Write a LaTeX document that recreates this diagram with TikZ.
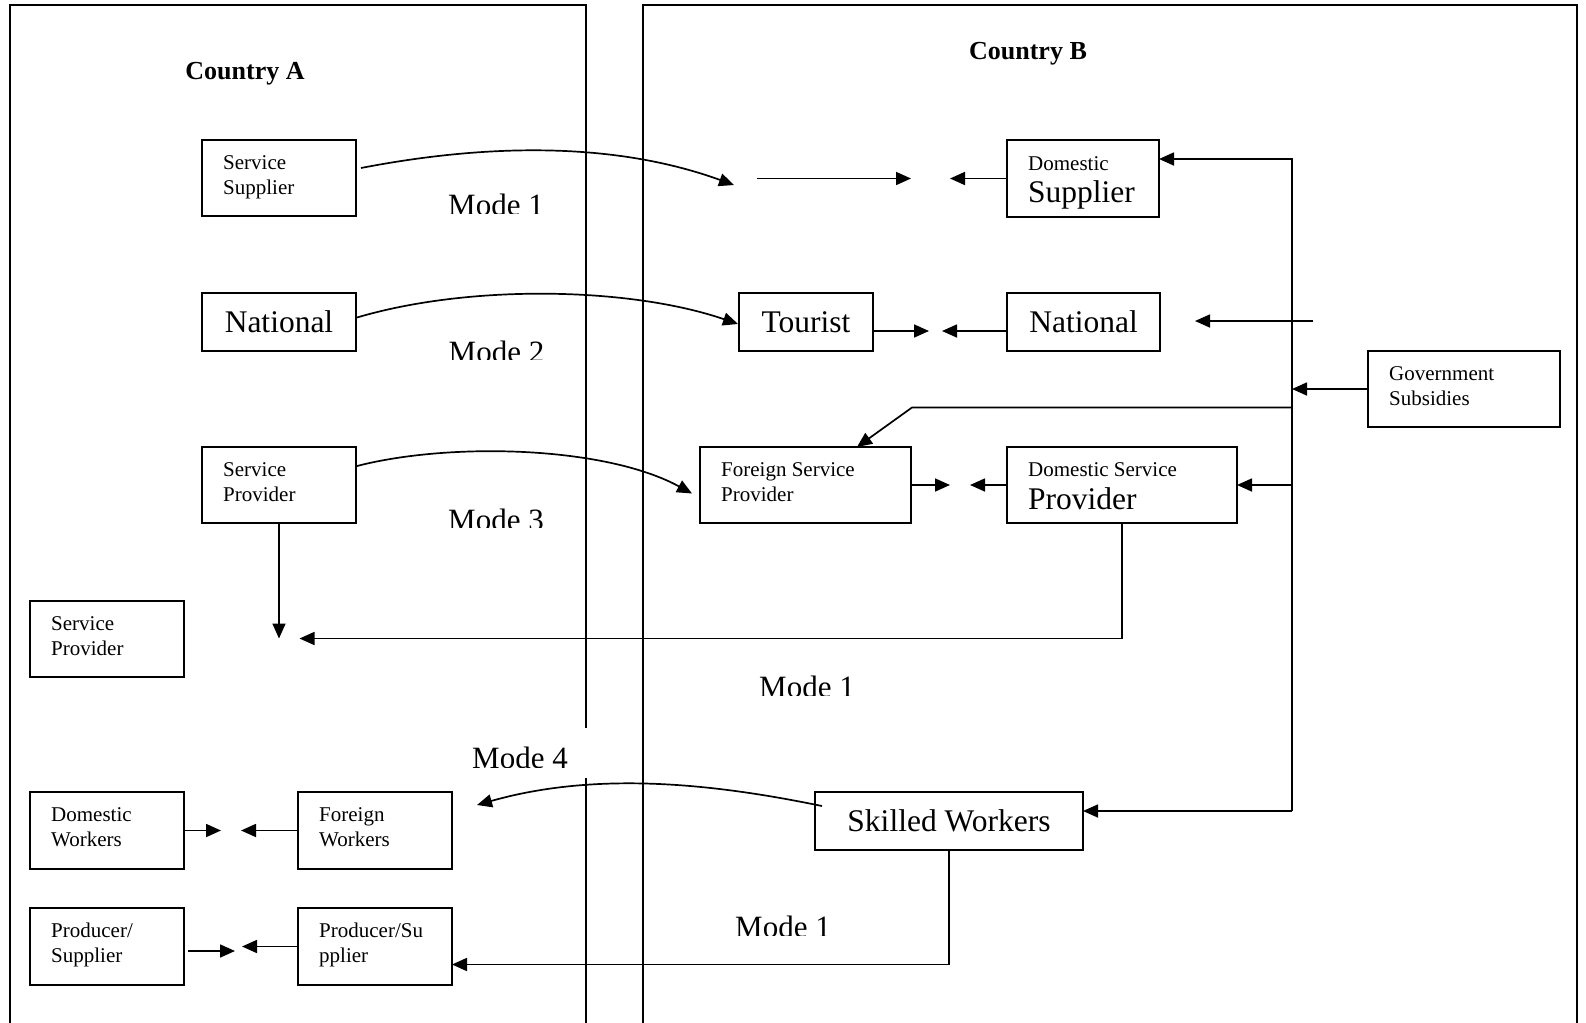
\documentclass[tikz,border=0pt]{standalone}
\usepackage{fontspec}
\setmainfont{Liberation Serif}
\usetikzlibrary{arrows.meta,calc}
\newcommand\fsmall{\fontsize{21}{24}\selectfont}
\newcommand\flarge{\fontsize{31.5}{36}\selectfont}
\newcommand\fmode{\fontsize{31}{36}\selectfont}
\newcommand\ftitle{\fontsize{26}{30}\selectfont\bfseries}
\begin{document}
\begin{tikzpicture}[x=1pt,y=-1pt,
  box/.style={draw, line width=1.6pt, inner sep=0pt, outer sep=0pt, anchor=north west},
  bigbox/.style={box, font=\flarge},
  stxt/.style={inner sep=0pt, anchor=base west, font=\fsmall},
  ltxt/.style={inner sep=0pt, anchor=base west, font=\flarge},
  mlbl/.style={inner sep=0pt, anchor=base, font=\fmode},
  ttl/.style={inner sep=0pt, anchor=base, font=\ftitle},
  frame/.style={line width=1.5pt},
  conn/.style={line width=1.7pt},
  arr/.style={conn, -{Triangle[length=15pt,width=13pt]}},
]
\useasboundingbox (0,0) rectangle (1586,1022);
\clip (0,0) rectangle (1586,1022);

% country frames
\coordinate (aBL) at (10,1040);
\coordinate (aTL) at (10,5);
\coordinate (aTR) at (586,5);
\coordinate (aG1) at (586,728);
\coordinate (aG2) at (586,778);
\coordinate (aBR) at (586,1040);
\draw[frame] (aBL) -- (aTL) -- (aTR) -- (aG1);
\draw[frame] (aG2) -- (aBR);
\coordinate (bBL) at (643,1040);
\coordinate (bTL) at (643,5);
\coordinate (bTR) at (1577,5);
\coordinate (bBR) at (1577,1040);
\draw[frame] (bBL) -- (bTL) -- (bTR) -- (bBR);

\node[ttl] (ca) at (245,80) {Country A};
\node[ttl] (cb) at (1028,60) {Country B};

% Country A boxes
\node[box, minimum width=154pt, minimum height=76pt] (ss) at (202,140) {};
\node[stxt] (ss1) at (223,169.5) {Service};
\node[stxt] (ss2) at (223,194) {Supplier};

\node[bigbox, minimum width=154pt, minimum height=58pt] (natA) at (202,293) {National};

\node[box, minimum width=154pt, minimum height=76pt] (spA) at (202,447) {};
\node[stxt] (spA1) at (223,476.5) {Service};
\node[stxt] (spA2) at (223,501) {Provider};

\node[box, minimum width=154pt, minimum height=76pt] (sp2) at (30,601) {};
\node[stxt] (sp21) at (51,630) {Service};
\node[stxt] (sp22) at (51,655) {Provider};

\node[box, minimum width=154pt, minimum height=77pt] (dw) at (30,792) {};
\node[stxt] (dw1) at (51,821.5) {Domestic};
\node[stxt] (dw2) at (51,846) {Workers};

\node[box, minimum width=154pt, minimum height=77pt] (fw) at (298,792) {};
\node[stxt] (fw1) at (319,821.5) {Foreign};
\node[stxt] (fw2) at (319,846) {Workers};

\node[box, minimum width=154pt, minimum height=77pt] (ps) at (30,908) {};
\node[stxt] (ps1) at (51,937.5) {Producer/};
\node[stxt] (ps2) at (51,962) {Supplier};

\node[box, minimum width=154pt, minimum height=77pt] (psu) at (298,908) {};
\node[stxt] (psu1) at (319,937.5) {Producer/Su};
\node[stxt] (psu2) at (319,962) {pplier};

% Country B boxes
\node[box, minimum width=152pt, minimum height=77pt] (dsup) at (1007,140) {};
\node[stxt] (dsup1) at (1028,170) {Domestic};
\node[ltxt] (dsup2) at (1028,202) {Supplier};

\node[bigbox, minimum width=134pt, minimum height=58pt] (tour) at (739,293) {Tourist};
\node[bigbox, minimum width=153pt, minimum height=58pt] (natB) at (1007,293) {National};

\node[box, minimum width=192pt, minimum height=76pt] (gov) at (1368,351) {};
\node[stxt] (gov1) at (1389,380.5) {Government};
\node[stxt] (gov2) at (1389,405) {Subsidies};

\node[box, minimum width=211pt, minimum height=76pt] (fsp) at (700,447) {};
\node[stxt] (fsp1) at (721,476.5) {Foreign Service};
\node[stxt] (fsp2) at (721,501) {Provider};

\node[box, minimum width=230pt, minimum height=76pt] (dsp) at (1007,447) {};
\node[stxt] (dsp1) at (1028,476.5) {Domestic Service};
\node[ltxt] (dsp2) at (1028,509) {Provider};

\node[bigbox, minimum width=268pt, minimum height=58pt] (sw) at (815,792) {Skilled Workers};

% mode labels (bottoms cut off as in the original)
\begin{scope}\clip (420,170) rectangle (580,213.5);
\node[mlbl] (m1) at (496,215.5) {Mode 1};\end{scope}
\begin{scope}\clip (420,320) rectangle (580,359.5);
\node[mlbl] (m2) at (496.5,362) {Mode 2};\end{scope}
\begin{scope}\clip (420,490) rectangle (580,527);
\node[mlbl] (m3) at (496,530) {Mode 3};\end{scope}
\begin{scope}\clip (720,650) rectangle (900,695);
\node[mlbl] (m1b) at (807,697) {Mode 1};\end{scope}
\begin{scope}\clip (440,730) rectangle (600,767);
\node[mlbl] (m4) at (520,768.5) {Mode 4};\end{scope}
\begin{scope}\clip (700,890) rectangle (870,935);
\node[mlbl] (m1c) at (783,937) {Mode 1};\end{scope}

% Mode 1 (top)
\coordinate (t1) at (734,185);
\draw[arr] ($(ss.east)+(5,-10)$) .. controls (480,145) and (610,140) .. (t1);
\coordinate (h1s) at (757,178.5);
\coordinate (h1e) at (911,178.5);
\draw[arr] (h1s) -- (h1e);
\coordinate (h2e) at ($(dsup.west)+(-57,0)$);
\draw[arr] (dsup.west) -- (h2e);

% Mode 2
\coordinate (t4) at ($(tour.west)+(-1,2)$);
\draw[arr] ($(natA.east)+(1,-4.5)$) .. controls (470,284) and (630,287) .. (t4);
\coordinate (t5) at ($(tour.east)+(56,9)$);
\draw[arr] ($(tour.east)+(0,9)$) -- (t5);
\coordinate (t6) at ($(natB.west)+(-65,9)$);
\draw[arr] ($(natB.west)+(0,9)$) -- (t6);
\coordinate (n7s) at (1313,321);
\coordinate (n7e) at (1195,321);
\draw[arr] (n7s) -- (n7e);

% Government subsidies backbone
\coordinate (vg) at (gov.west -| 1292,0);
\draw[arr] (gov.west) -- (vg);
\coordinate (vtop) at (1292,159);
\coordinate (vbot) at (1292,811);
\draw[arr] (vbot) -- (vtop) -- (dsup.east |- vtop);
\draw[arr] (vbot) -- (sw.east |- vbot);
\coordinate (vdsp) at (dsp.east -| vtop);
\draw[arr] (vdsp) -- (dsp.east);
\coordinate (vf) at (1292,407.5);
\coordinate (kf) at (912,407.5);
\draw[arr] (vf) -- (kf) -- ($(fsp.north west)+(157,0)$);

% Mode 3
\coordinate (t11) at ($(fsp.east)+(39,0)$);
\draw[arr] (fsp.east) -- (t11);
\coordinate (t12) at ($(dsp.west)+(-37,0)$);
\draw[arr] (dsp.west) -- (t12);
\coordinate (t13) at ($(fsp.west)+(-8,8.5)$);
\draw[arr] ($(spA.east)+(1,-19)$) .. controls (450,442) and (605,446) .. (t13);
\coordinate (t14) at ($(spA.south)+(0,115.5)$);
\draw[arr] (spA.south) -- (t14);
\coordinate (t15) at (299.5,638.5);
\draw[arr] (dsp.south) -- (dsp.south |- t15) -- (t15);

% Mode 4
\coordinate (t16) at (477,805);
\draw[arr] ($(sw.north west)+(7,14)$) .. controls (720,785) and (600,770) .. (t16);
\coordinate (t17) at ($(psu.east)+(0,18)$);
\draw[arr] (sw.south) -- (sw.south |- t17) -- (t17);
\coordinate (t18) at ($(dw.east)+(37,0)$);
\draw[arr] (dw.east) -- (t18);
\coordinate (t19) at ($(fw.west)+(-57,0)$);
\draw[arr] (fw.west) -- (t19);
\coordinate (t20) at ($(ps.east)+(51,4.5)$);
\draw[arr] ($(ps.east)+(4,4.5)$) -- (t20);
\coordinate (t21) at ($(psu.west)+(-56,0)$);
\draw[arr] (psu.west) -- (t21);
\end{tikzpicture}
\end{document}
